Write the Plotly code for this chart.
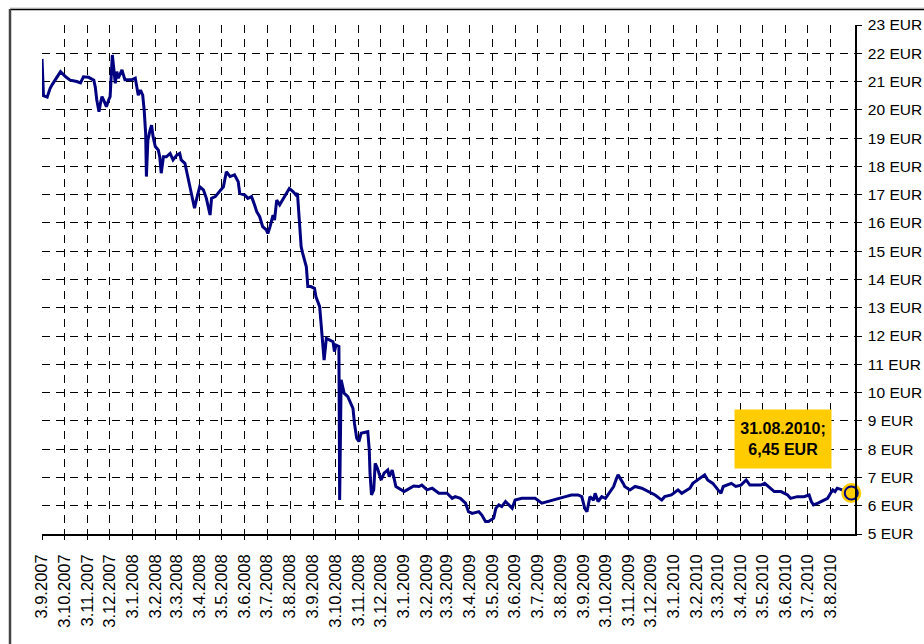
import plotly.graph_objects as go
import pandas as pd

# ---- data ----
dates = [
    "2007-09-03", "2007-09-05", "2007-09-10", "2007-09-14", "2007-09-17", "2007-09-21", "2007-09-28",
    "2007-10-05", "2007-10-11", "2007-10-20", "2007-10-25", "2007-10-29",
    "2007-11-05", "2007-11-12", "2007-11-14", "2007-11-16", "2007-11-19", "2007-11-21", "2007-11-23",
    "2007-11-26", "2007-11-29",
    "2007-12-02", "2007-12-04", "2007-12-07", "2007-12-09", "2007-12-11", "2007-12-13", "2007-12-15",
    "2007-12-20", "2007-12-24",
    "2008-01-02", "2008-01-07", "2008-01-09", "2008-01-11", "2008-01-14", "2008-01-17", "2008-01-19",
    "2008-01-21", "2008-01-22", "2008-01-24", "2008-01-27", "2008-01-29", "2008-01-31",
    "2008-02-03", "2008-02-07", "2008-02-09", "2008-02-11", "2008-02-14", "2008-02-18", "2008-02-23",
    "2008-02-27",
    "2008-03-03", "2008-03-07", "2008-03-09", "2008-03-14", "2008-03-18", "2008-03-21", "2008-03-23",
    "2008-03-27", "2008-03-30",
    "2008-04-03", "2008-04-08", "2008-04-12", "2008-04-17", "2008-04-19", "2008-04-24", "2008-04-30",
    "2008-05-05", "2008-05-09", "2008-05-14", "2008-05-20", "2008-05-25", "2008-05-27",
    "2008-06-03", "2008-06-07", "2008-06-12", "2008-06-16", "2008-06-19", "2008-06-23", "2008-06-27",
    "2008-07-02", "2008-07-04", "2008-07-07", "2008-07-11", "2008-07-13", "2008-07-16", "2008-07-20",
    "2008-07-24", "2008-07-29",
    "2008-08-02", "2008-08-07", "2008-08-11", "2008-08-13", "2008-08-16", "2008-08-18", "2008-08-20",
    "2008-08-25", "2008-08-27", "2008-08-31",
    "2008-09-05", "2008-09-07", "2008-09-12", "2008-09-14", "2008-09-16", "2008-09-18", "2008-09-21",
    "2008-09-25", "2008-09-30",
    "2008-10-02", "2008-10-04", "2008-10-08", "2008-10-09", "2008-10-11", "2008-10-15", "2008-10-20",
    "2008-10-24", "2008-10-27", "2008-10-29",
    "2008-11-01", "2008-11-04", "2008-11-07", "2008-11-16", "2008-11-18", "2008-11-19", "2008-11-21",
    "2008-11-24", "2008-11-26", "2008-11-29",
    "2008-12-04", "2008-12-08", "2008-12-13", "2008-12-15", "2008-12-19", "2008-12-24", "2008-12-28",
    "2009-01-04", "2009-01-08", "2009-01-17", "2009-01-24", "2009-01-28",
    "2009-02-04", "2009-02-11", "2009-02-20",
    "2009-03-03", "2009-03-10", "2009-03-14", "2009-03-21", "2009-03-28",
    "2009-04-01", "2009-04-06", "2009-04-15", "2009-04-19", "2009-04-24", "2009-04-28",
    "2009-05-05", "2009-05-08", "2009-05-12", "2009-05-16", "2009-05-21", "2009-05-25", "2009-05-30",
    "2009-06-03", "2009-06-12", "2009-06-21", "2009-06-30",
    "2009-07-09", "2009-07-18", "2009-07-27",
    "2009-08-01", "2009-08-10", "2009-08-18", "2009-08-27",
    "2009-09-01", "2009-09-05", "2009-09-08", "2009-09-12", "2009-09-17", "2009-09-19", "2009-09-23",
    "2009-09-28",
    "2009-10-03", "2009-10-09", "2009-10-14", "2009-10-18", "2009-10-20", "2009-10-27", "2009-10-29",
    "2009-11-05", "2009-11-12", "2009-11-21", "2009-11-30",
    "2009-12-09", "2009-12-18", "2009-12-22", "2009-12-31",
    "2010-01-09", "2010-01-14", "2010-01-25", "2010-01-29",
    "2010-02-05", "2010-02-14", "2010-02-18", "2010-02-25",
    "2010-03-04", "2010-03-08", "2010-03-11", "2010-03-17", "2010-03-22", "2010-03-28",
    "2010-04-04", "2010-04-11", "2010-04-16", "2010-04-22",
    "2010-05-01", "2010-05-06", "2010-05-13", "2010-05-19", "2010-05-28",
    "2010-06-06", "2010-06-10", "2010-06-19", "2010-06-28",
    "2010-07-05", "2010-07-08", "2010-07-11", "2010-07-17", "2010-07-26", "2010-07-30",
    "2010-08-03", "2010-08-06", "2010-08-09", "2010-08-12", "2010-08-31",
]

prices = [
    21.80, 20.50, 20.45, 20.76, 20.90, 21.06, 21.35,
    21.17, 21.05, 21.00, 20.95, 21.17,
    21.15, 21.05, 20.80, 20.35, 19.93, 20.24, 20.47,
    20.30, 20.11,
    20.35, 20.47, 21.94, 21.53, 20.94, 21.35, 21.12,
    21.41, 21.06,
    21.06, 21.12, 20.82, 20.52, 20.70, 20.52, 19.99,
    19.17, 17.64, 18.93, 19.29, 19.46, 19.05,
    18.70, 18.58, 18.34, 17.76, 18.34, 18.34, 18.46,
    18.23,
    18.40, 18.46, 18.23, 18.11, 17.64, 17.17, 17.05,
    16.52, 16.87,
    17.28, 17.17, 16.87, 16.28, 16.87, 16.93, 17.11,
    17.28, 17.81, 17.64, 17.70, 17.46, 17.05,
    16.99, 16.87, 16.93, 16.64, 16.40, 16.22, 15.87,
    15.75, 15.63, 15.87, 16.28, 16.10, 16.81, 16.64,
    16.81, 17.05,
    17.22, 17.11, 16.99, 17.05, 15.75, 15.16, 14.93,
    14.45, 13.75, 13.75,
    13.69, 13.39, 13.04, 12.45, 11.63, 11.15, 11.92,
    11.86, 11.80,
    11.45, 11.68, 11.63, 6.20, 10.45, 9.98, 9.86,
    9.62, 9.44, 8.91,
    8.39, 8.27, 8.56, 8.62, 7.97, 7.15, 6.38,
    6.56, 7.50, 7.32,
    6.91, 7.15, 7.26, 7.03, 7.26, 6.68, 6.62,
    6.50, 6.56, 6.70, 6.68, 6.73,
    6.56, 6.62, 6.44,
    6.44, 6.26, 6.32, 6.26, 6.09,
    5.79, 5.73, 5.79, 5.67, 5.44, 5.44,
    5.56, 5.91, 6.03, 5.97, 6.15, 6.03, 5.91,
    6.20, 6.26, 6.26, 6.26,
    6.09, 6.15, 6.20,
    6.26, 6.32, 6.38, 6.38,
    6.32, 5.91, 5.79, 6.32, 6.20, 6.44, 6.15,
    6.32,
    6.26, 6.50, 6.68, 6.97, 7.09, 6.79, 6.68,
    6.56, 6.68, 6.62, 6.50,
    6.38, 6.20, 6.32, 6.38,
    6.56, 6.44, 6.62, 6.79,
    6.91, 7.09, 6.91, 6.79,
    6.56, 6.44, 6.68, 6.73, 6.79, 6.68,
    6.73, 6.91, 6.73, 6.73,
    6.73, 6.79, 6.62, 6.50, 6.50,
    6.38, 6.26, 6.32, 6.32,
    6.38, 6.15, 6.03, 6.09, 6.20, 6.26,
    6.44, 6.56, 6.50, 6.62, 6.45,
]

last_label_date = "31.08.2010"
last_label_value = "6,45 EUR"

tick_labels = [
    "3.9.2007", "3.10.2007", "3.11.2007", "3.12.2007",
    "3.1.2008", "3.2.2008", "3.3.2008", "3.4.2008", "3.5.2008", "3.6.2008",
    "3.7.2008", "3.8.2008", "3.9.2008", "3.10.2008", "3.11.2008", "3.12.2008",
    "3.1.2009", "3.2.2009", "3.3.2009", "3.4.2009", "3.5.2009", "3.6.2009",
    "3.7.2009", "3.8.2009", "3.9.2009", "3.10.2009", "3.11.2009", "3.12.2009",
    "3.1.2010", "3.2.2010", "3.3.2010", "3.4.2010", "3.5.2010", "3.6.2010",
    "3.7.2010", "3.8.2010",
]
y_ticks = list(range(5, 24))
y_tick_labels = [f"{v} EUR" for v in y_ticks]

# ---- figure ----
x_dates = pd.to_datetime(dates)
tick_vals = pd.to_datetime(tick_labels, format="%d.%m.%Y")

NAVY = "#000080"
GOLD = "#FFCC00"
FONT = "Arial, Liberation Sans, sans-serif"

fig = go.Figure()
fig.add_trace(go.Scatter(
    x=x_dates, y=prices, mode="lines",
    line=dict(color=NAVY, width=3), hoverinfo="skip", showlegend=False,
))
# highlighted last point
fig.add_trace(go.Scatter(
    x=[x_dates[-1]], y=[prices[-1]], mode="markers",
    marker=dict(size=20, color=GOLD, opacity=1, line=dict(width=0, color=GOLD)),
    cliponaxis=False, showlegend=False, hoverinfo="skip",
))
fig.add_trace(go.Scatter(
    x=[x_dates[-1]], y=[prices[-1]], mode="markers",
    marker=dict(size=13, color=GOLD, line=dict(width=2, color=NAVY)),
    cliponaxis=False, showlegend=False, hoverinfo="skip",
))

fig.add_annotation(
    x=x_dates[-1], y=prices[-1], xref="x", yref="y",
    text=f"<b>{last_label_date};<br>{last_label_value}</b>",
    showarrow=False, xanchor="right", yanchor="bottom",
    xshift=-19, yshift=24, width=96, height=58,
    bgcolor=GOLD, borderpad=0, align="center", valign="middle",
    font=dict(family=FONT, size=16, color="black"),
)

L, R, T, B = 42, 69, 25, 110
W, H = 924, 644
pw, ph = W - L - R, H - T - B

def px_x(p):
    return (p - L) / pw

def px_y(p):
    return (H - B - p) / ph

# outer frame lines
fig.add_shape(type="line", xref="paper", yref="paper",
              x0=px_x(10), x1=px_x(930), y0=px_y(8), y1=px_y(8),
              line=dict(color="#c8c8c8", width=1))
fig.add_shape(type="line", xref="paper", yref="paper",
              x0=px_x(10), x1=px_x(930), y0=px_y(9.5), y1=px_y(9.5),
              line=dict(color="black", width=1.5))
fig.add_shape(type="line", xref="paper", yref="paper",
              x0=px_x(10), x1=px_x(10), y0=px_y(9), y1=px_y(650),
              line=dict(color="#444444", width=2.5))

fig.update_layout(
    width=W, height=H,
    margin=dict(l=L, r=R, t=T, b=B, pad=0, autoexpand=False),
    paper_bgcolor="white", plot_bgcolor="white",
    font=dict(family=FONT, size=16, color="black"),
    showlegend=False,
    xaxis=dict(
        type="date", automargin=False,
        range=[pd.Timestamp("2007-09-03"), pd.Timestamp("2010-09-05")],
        tickmode="array", tickvals=tick_vals, ticktext=tick_labels,
        tickangle=-90, tickfont=dict(size=16.5),
        ticks="outside", ticklen=4, tickcolor="black", tickwidth=1,
        showline=True, linecolor="black", linewidth=1.5,
        showgrid=True, gridcolor="black", gridwidth=1, griddash="8px,6px",
        zeroline=False, ticklabelstandoff=8,
    ),
    yaxis=dict(
        side="right", range=[5, 23], automargin=False,
        tickmode="array", tickvals=y_ticks, ticktext=y_tick_labels,
        tickfont=dict(size=15.5),
        ticks="outside", ticklen=5, tickcolor="black", tickwidth=1,
        showline=True, linecolor="black", linewidth=1.5,
        showgrid=True, gridcolor="black", gridwidth=1, griddash="8px,6px",
        zeroline=False, ticklabelstandoff=3,
    ),
)

fig.write_html(
    "out.html",
    config={"displayModeBar": False},
    post_script="document.body.style.margin='0';document.body.style.overflow='hidden';",
)
